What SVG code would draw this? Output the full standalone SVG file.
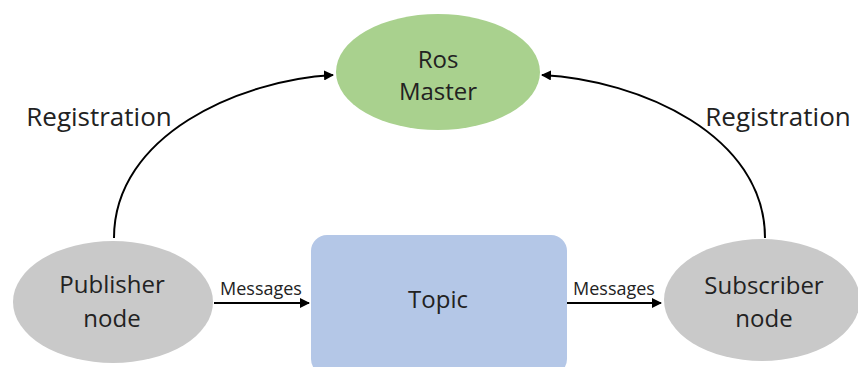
<svg xmlns="http://www.w3.org/2000/svg" width="858" height="367" viewBox="0 0 858 367">
<defs>
<style>
text{font-family:"Open Sans","Liberation Sans",sans-serif;fill:#222;text-anchor:middle}
.big{font-size:24px}
.reg{font-size:26px}
.msg{font-size:18px}
.edge{fill:none;stroke:#000;stroke-width:2}
</style>
<marker id="ah" viewBox="0 0 10 10" refX="9" refY="5" markerWidth="5" markerHeight="5" orient="auto" markerUnits="strokeWidth">
<path d="M0,0 L10,5 L0,10 z" fill="#000"/>
</marker>
</defs>
<rect width="858" height="367" fill="#fff"/>
<g id="connectors">
<path class="edge" d="M114,238 C114,135 240,80 333,75" marker-end="url(#ah)"/>
<path class="edge" d="M765,238 C765,135 640,80 542,75" marker-end="url(#ah)"/>
<line class="edge" x1="214" y1="303" x2="309" y2="303" marker-end="url(#ah)"/>
<line class="edge" x1="567" y1="303" x2="661" y2="303" marker-end="url(#ah)"/>
<text class="msg" x="261" y="295">Messages</text>
<text class="msg" x="614" y="295">Messages</text>
<text class="reg" x="99" y="126">Registration</text>
<text class="reg" x="778" y="126">Registration</text>
</g>
<g id="ros-master">
<ellipse cx="438" cy="72" rx="102" ry="58" fill="#a9d18e"/>
<text class="big" x="438" y="68">Ros</text>
<text class="big" x="438" y="100">Master</text>
</g>
<g id="publisher">
<ellipse cx="113" cy="302" rx="100" ry="61" fill="#c9c9c9"/>
<text class="big" x="112" y="293">Publisher</text>
<text class="big" x="112" y="327">node</text>
</g>
<g id="topic">
<rect x="311" y="235" width="256" height="140" rx="16" fill="#b4c7e7"/>
<text class="big" x="438" y="308">Topic</text>
</g>
<g id="subscriber">
<ellipse cx="762" cy="300" rx="98" ry="61" fill="#c9c9c9"/>
<text class="big" x="764" y="294">Subscriber</text>
<text class="big" x="764" y="327">node</text>
</g>
</svg>
